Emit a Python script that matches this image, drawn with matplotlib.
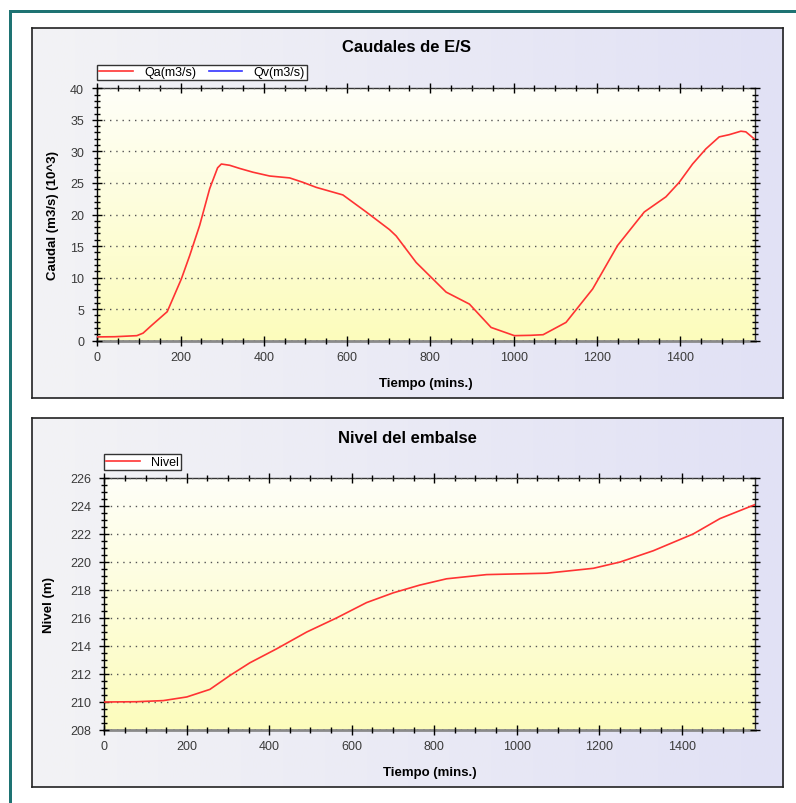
#!/usr/bin/env python3
from __future__ import annotations

import matplotlib

matplotlib.use("Agg")
import matplotlib.pyplot as plt
import numpy as np
from matplotlib.patches import Rectangle
from matplotlib.ticker import MultipleLocator

# ---- data ----
qa_t = [0, 42, 95, 110, 130, 168, 202, 222, 246, 270, 289, 298, 318, 342, 374, 414,
        462, 494, 526, 590, 646, 702, 718, 766, 838, 894, 946, 1002, 1040, 1071,
        1126, 1190, 1250, 1314, 1366, 1398, 1430, 1462, 1494, 1518, 1546, 1558, 1578]
qa = [0.6, 0.63, 0.8, 1.2, 2.4, 4.6, 9.8, 13.5, 18.3, 24.1, 27.4, 28.0, 27.8, 27.3,
      26.7, 26.1, 25.8, 25.1, 24.3, 23.1, 20.4, 17.6, 16.6, 12.4, 7.7, 5.8, 2.1, 0.8,
      0.85, 0.95, 2.9, 8.2, 15.1, 20.4, 22.8, 25.1, 28.0, 30.4, 32.3, 32.65, 33.2,
      33.1, 32.0]
qv_t: list[float] = []
qv: list[float] = []

nivel_t = [0, 78, 143, 200, 256, 305, 353, 418, 491, 563, 636, 701, 765, 830, 927,
           1073, 1186, 1251, 1331, 1428, 1493, 1578]
nivel = [210.0, 210.02, 210.1, 210.36, 210.9, 211.9, 212.8, 213.8, 215.0, 216.0,
         217.1, 217.8, 218.35, 218.8, 219.1, 219.2, 219.55, 220.0, 220.8, 222.0,
         223.1, 224.1]

PLOT_CFG = {
    "font_name": "Liberation Sans",
    "tick_size": 9,
    "label_size": 9.5,
    "title_size": 12,
    "legend_size": 9,
    "W": 796,
    "H": 804,
    "dpi": 100,
    "teal": "#1e7373",
    "panel_left": "#f3f3f5",
    "panel_right": "#e1e1f5",
    "plot_top": "#fffff8",
    "plot_bottom": "#fcfcbc",
    "red": "#ff3333",
    "blue": "#3333ff",
}


def px_rect(x0, y0, x1, y1):
    W, H = PLOT_CFG["W"], PLOT_CFG["H"]
    return [x0 / W, 1 - y1 / H, (x1 - x0) / W, (y1 - y0) / H]


def gradient(c0, c1, n=256, horizontal=True):
    a = np.array(matplotlib.colors.to_rgb(c0))
    b = np.array(matplotlib.colors.to_rgb(c1))
    t = np.linspace(0, 1, n)[:, None]
    g = a + (b - a) * t
    if horizontal:
        return g[None, :, :]
    return g[:, None, :]


def panel(fig, rect):
    bg = fig.add_axes(rect, zorder=0)
    bg.imshow(gradient(PLOT_CFG["panel_left"], PLOT_CFG["panel_right"]),
              aspect="auto", extent=[0, 1, 0, 1])
    bg.set_xlim(0, 1)
    bg.set_ylim(0, 1)
    bg.set_xticks([])
    bg.set_yticks([])
    for s in bg.spines.values():
        s.set_color("#222222")
        s.set_linewidth(1.2)
    return bg


def style_axes(ax):
    ax.imshow(gradient(PLOT_CFG["plot_top"], PLOT_CFG["plot_bottom"], horizontal=False),
              aspect="auto", extent=[0, 1, 0, 1], transform=ax.transAxes, zorder=0)
    ax.spines["left"].set_color("black")
    ax.spines["left"].set_linewidth(1)
    ax.spines["bottom"].set_color("#8a8a8a")
    ax.spines["bottom"].set_linewidth(2)
    ax.spines["top"].set_color("#333333")
    ax.spines["top"].set_linewidth(1)
    ax.spines["right"].set_color("#333333")
    ax.spines["right"].set_linewidth(1)
    ax.tick_params(which="major", direction="inout", length=7, width=1, colors="black",
                   labelcolor="#3a3a3a", labelsize=PLOT_CFG["tick_size"],
                   top=True, right=True)
    ax.tick_params(axis="y", which="major", pad=6)
    ax.tick_params(axis="x", which="major", pad=4)
    ax.tick_params(which="minor", direction="inout", length=4, width=1, colors="black",
                   top=True, right=True)
    ax.grid(True, axis="y", which="major", color="#555555", linewidth=1,
            linestyle=(0, (1, 3.5)))
    ax.set_axisbelow(False)


def main() -> None:
    plt.rcParams.update({
        "font.family": [PLOT_CFG["font_name"], "DejaVu Sans"],
        "savefig.dpi": PLOT_CFG["dpi"],
    })
    fig = plt.figure(figsize=(PLOT_CFG["W"] / 100, PLOT_CFG["H"] / 100), dpi=100)
    fig.patch.set_facecolor("white")

    # teal outer frame (top and left edges)
    W, H = PLOT_CFG["W"], PLOT_CFG["H"]
    fig.add_artist(Rectangle((9 / W, 1 - 13.5 / H), 1, 2.5 / H, transform=fig.transFigure,
                             color=PLOT_CFG["teal"], lw=0))
    fig.add_artist(Rectangle((9 / W, 0), 2.5 / W, 1 - 11 / H, transform=fig.transFigure,
                             color=PLOT_CFG["teal"], lw=0))

    # ---- top panel ----
    panel(fig, px_rect(31.5, 29, 783, 399))
    ax1 = fig.add_axes(px_rect(97.3, 89.3, 755, 341.7), zorder=1)
    style_axes(ax1)
    ax1.plot(qa_t, qa, color=PLOT_CFG["red"], lw=1.2, label="Qa(m3/s)", zorder=3)
    ax1.plot(qv_t, qv, color=PLOT_CFG["blue"], lw=1.2, label="Qv(m3/s)", zorder=3)
    ax1.set_xlim(0, 1580)
    ax1.set_ylim(0, 40)
    ax1.xaxis.set_major_locator(MultipleLocator(200))
    ax1.xaxis.set_minor_locator(MultipleLocator(50))
    ax1.yaxis.set_major_locator(MultipleLocator(5))
    ax1.yaxis.set_minor_locator(MultipleLocator(1))
    ax1.set_xlabel("Tiempo (mins.)", fontsize=PLOT_CFG["label_size"], fontweight="bold",
                   labelpad=10)
    ax1.set_ylabel("Caudal (m3/s) (10^3)", fontsize=PLOT_CFG["label_size"],
                   fontweight="bold", labelpad=8)
    fig.text(407 / W, 1 - 47.5 / H, "Caudales de E/S", ha="center", va="center",
             fontsize=PLOT_CFG["title_size"], fontweight="bold")
    leg = ax1.legend(loc="lower left", bbox_to_anchor=(0, 1 + 8 / 252.4), ncol=2,
                     borderaxespad=0, fontsize=PLOT_CFG["legend_size"], fancybox=False,
                     framealpha=1, edgecolor="#333333", handlelength=2.7,
                     handletextpad=0.9, columnspacing=1.0, borderpad=0.15)
    leg.get_frame().set_linewidth(1)

    # ---- bottom panel ----
    panel(fig, px_rect(31.5, 419, 783, 788))
    ax2 = fig.add_axes(px_rect(104.3, 479, 755, 731), zorder=1)
    style_axes(ax2)
    ax2.plot(nivel_t, nivel, color=PLOT_CFG["red"], lw=1.2, label="Nivel", zorder=3)
    ax2.set_xlim(0, 1578)
    ax2.set_ylim(208, 226)
    ax2.xaxis.set_major_locator(MultipleLocator(200))
    ax2.xaxis.set_minor_locator(MultipleLocator(50))
    ax2.yaxis.set_major_locator(MultipleLocator(2))
    ax2.yaxis.set_minor_locator(MultipleLocator(0.5))
    ax2.set_xlabel("Tiempo (mins.)", fontsize=PLOT_CFG["label_size"], fontweight="bold",
                   labelpad=10)
    ax2.set_ylabel("Nivel (m)", fontsize=PLOT_CFG["label_size"], fontweight="bold",
                   labelpad=11)
    fig.text(407 / W, 1 - 438.5 / H, "Nivel del embalse", ha="center", va="center",
             fontsize=PLOT_CFG["title_size"], fontweight="bold")
    leg2 = ax2.legend(loc="lower left", bbox_to_anchor=(0, 1 + 8 / 252), ncol=1,
                      borderaxespad=0, fontsize=PLOT_CFG["legend_size"], fancybox=False,
                      framealpha=1, edgecolor="#333333", handlelength=2.7,
                      handletextpad=0.9, borderpad=0.15)
    leg2.get_frame().set_linewidth(1)

    fig.savefig("out.png", dpi=PLOT_CFG["dpi"])
    plt.close(fig)


if __name__ == "__main__":
    main()
